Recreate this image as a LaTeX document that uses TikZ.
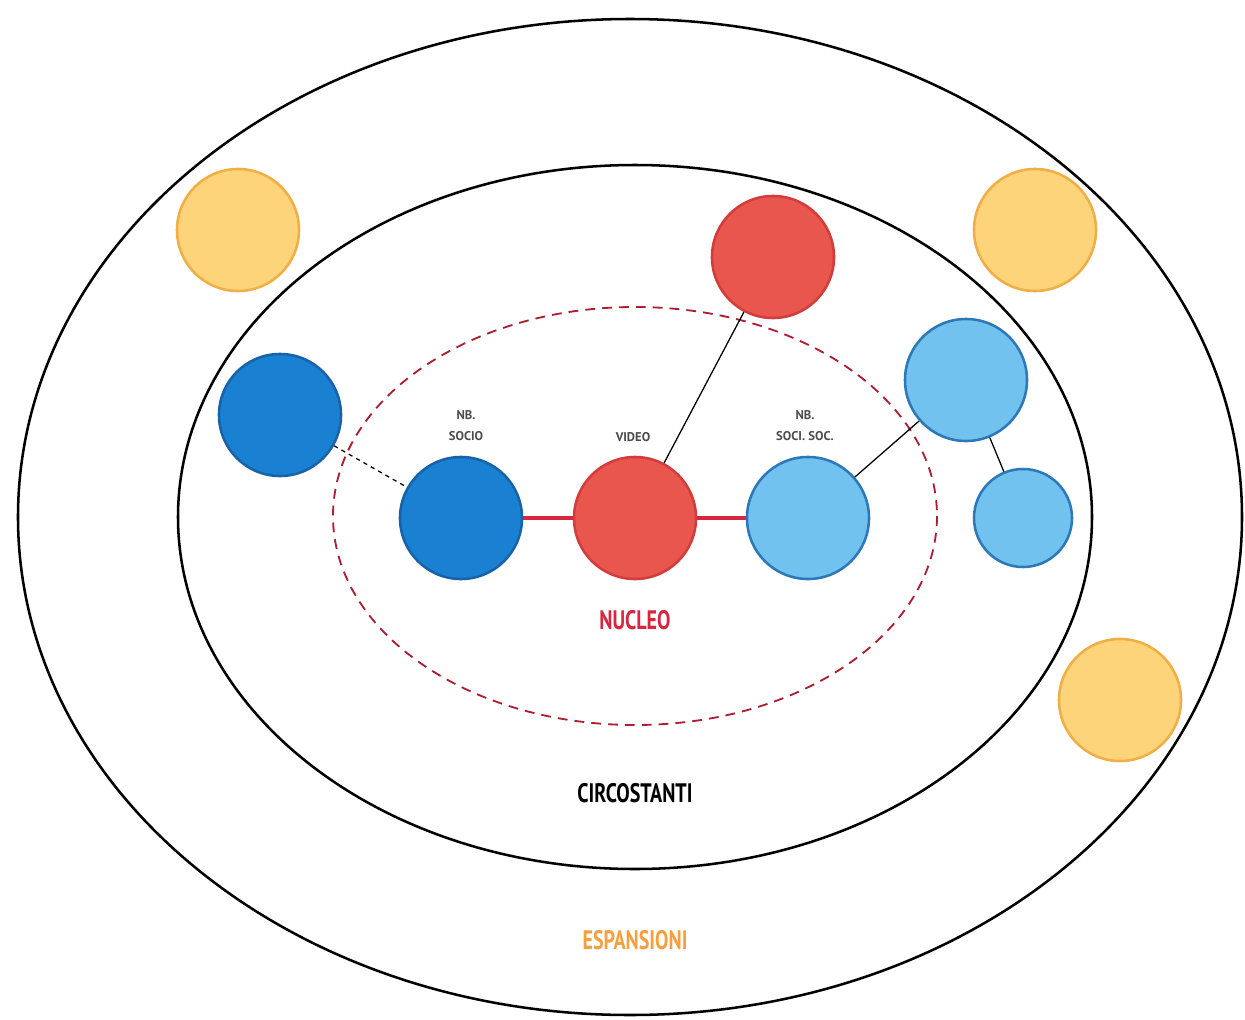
\documentclass[tikz,border=0pt]{standalone}
\usepackage{fontspec}
\setmainfont{PT Sans}
\usetikzlibrary{positioning}
\definecolor{ballred}{HTML}{E8564E}
\definecolor{ballredline}{HTML}{D23C3C}
\definecolor{balldark}{HTML}{1A80D2}
\definecolor{balldarkline}{HTML}{1762A8}
\definecolor{balllight}{HTML}{72C2EF}
\definecolor{balllightline}{HTML}{2C78B8}
\definecolor{ballyellow}{HTML}{FDD47A}
\definecolor{ballyellowline}{HTML}{F0AE45}
\definecolor{nucleored}{HTML}{D7263D}
\definecolor{espansorange}{HTML}{F4A040}
\tikzstyle{ball}=[circle,line width=1.8pt,minimum size=3.05cm,inner sep=0pt]
\tikzstyle{redball}=[ball,fill=ballred,draw=ballredline]
\tikzstyle{darkball}=[ball,fill=balldark,draw=balldarkline]
\tikzstyle{lightball}=[ball,fill=balllight,draw=balllightline]
\tikzstyle{yellowball}=[ball,fill=ballyellow,draw=ballyellowline]
\tikzstyle{tag}=[font=\fontsize{9}{15}\selectfont\bfseries,text=black!70,align=center,inner sep=1pt]
\tikzstyle{ring}=[font=\fontsize{19}{20}\selectfont\bfseries]
\tikzstyle{link}=[draw=black,line width=0.9pt]

\begin{document}
\begin{tikzpicture}[x=0.025cm,y=-0.025cm]
    \useasboundingbox[fill=white] (0,0) rectangle (1245,1020);
    % rings
    \draw[line width=1.8pt] (630,517) ellipse (612 and 498);
    \draw[line width=1.8pt] (635,517) ellipse (457 and 352);
    \draw[draw=nucleored!80!black,line width=1.3pt,dash pattern=on 7pt off 5pt] (635,516) ellipse (302 and 209);
    % balls
    \node[yellowball] (Y1) at (238,230) {};
    \node[yellowball] (Y2) at (1035,230) {};
    \node[yellowball] (Y3) at (1120,700) {};
    \node[redball] (R1) at (773,257) {};
    \node[darkball] (B1) at (280,415) {};
    \node[darkball] (B2) at (461,518) {};
    \node[redball] (R2) at (635,518) {};
    \node[lightball] (L1) at (808,518) {};
    \node[lightball] (L2) at (966,380) {};
    \node[lightball,minimum size=2.45cm] (L3) at (1023,518) {};
    % connectors
    \draw[draw=nucleored,line width=3.5pt] (B2) edge (R2);
    \draw[draw=nucleored,line width=3.5pt] (R2) edge (L1);
    \draw[link,dashed] (B1) edge (B2);
    \draw[link] (R2) edge (R1);
    \draw[link] (L1) edge (L2);
    \draw[link] (L2) edge (L3);
    % labels
    \node[tag] (T1) at (466,426) {NB.\\SOCIO};
    \node[tag] (T2) at (633,437) {VIDEO};
    \node[tag] (T3) at (805,426) {NB.\\SOCI. SOC.};
    \node[ring,text=nucleored] (N) at (635,620) {\scalebox{0.75}[1]{NUCLEO}};
    \node[ring,text=black] (C) at (635,793) {\scalebox{0.75}[1]{CIRCOSTANTI}};
    \node[ring,text=espansorange] (E) at (635,940) {\scalebox{0.75}[1]{ESPANSIONI}};
\end{tikzpicture}
\end{document}
